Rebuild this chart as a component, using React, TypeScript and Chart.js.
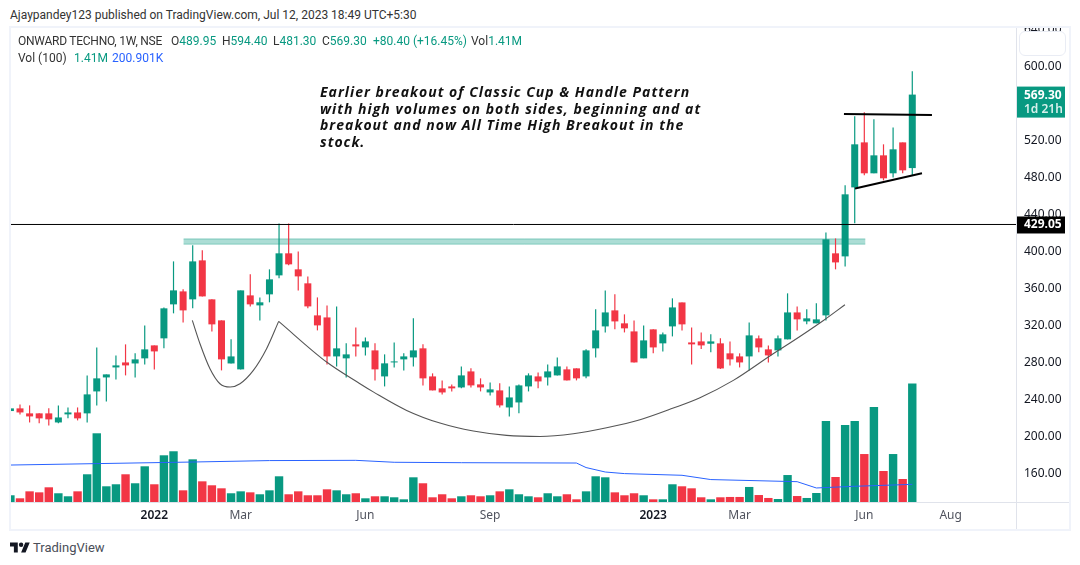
import { Chart, registerables } from "chart.js";
import { useEffect, useRef } from "react";

Chart.register(...registerables);

const GREEN = "#089981";
const RED = "#f23645";
const BLUE = "#2962ff";
const TEXT = "#131722";
const FONT = "'Noto Sans', sans-serif";
const LABEL_FONT = "Roboto, sans-serif";

// weekly candles, left to right
const opens = [
  227.6, 230.5, 225.1, 225.1, 225.1, 215.3, 224, 226.1, 225.1, 248.8, 263.9, 274.7, 280.1, 279, 284.5, 298.5,
  306.1, 342.8, 356.8, 348.2, 390.3, 348.2, 325.5, 279, 272.6, 352.5, 341.7, 353.6, 374.1, 397.9, 380.6, 365.5,
  330.9, 328.7, 286.6, 284.5, 299.6, 296.3, 293.1, 265, 280.1, 283.4, 285.5, 295.3, 265, 252.1, 254.2, 253.1,
  270.4, 256.4, 247.7, 249.9, 231.5, 236.9, 254.2, 265, 263.9, 266.1, 272.6, 273.7, 265, 295.3, 319, 336.3,
  322.3, 313.6, 284.5, 315.8, 300.7, 319, 344.9, 301.7, 302.8, 300.3, 300.7, 289.9, 286.6, 286.6, 306.1, 294.2,
  293.1, 305, 334.1, 324.4, 322.3, 330.9, 397.9, 394.6, 469.1, 517.7, 484.3, 503.7, 484.3, 517.7, 489.95,
];
const highs = [
  240.2, 234.8, 233.7, 225.1, 230.5, 233.7, 231.5, 231.5, 266.1, 296.3, 267.2, 287.7, 299.6, 289.9, 320.1, 298.5,
  339.5, 389.2, 359, 406.5, 401.1, 348.2, 325.5, 305, 357.9, 375.2, 350.3, 380.6, 430, 430, 400, 373,
  350.3, 341.7, 340.6, 300.7, 317.9, 307.1, 300.7, 288.8, 301.7, 289.9, 327.7, 299.6, 268.3, 260.7, 256.4, 275.8,
  273.7, 262.9, 258.5, 257.5, 254.2, 256.4, 268.3, 269.3, 278, 285.5, 275.8, 273.7, 294.2, 337.4, 357.9, 353.6,
  332, 325.5, 320.1, 315.8, 312.5, 349.3, 344.9, 317.9, 312.5, 310.4, 306.1, 302.8, 289.9, 323.3, 309.3, 298.5,
  309.3, 354.7, 340.6, 337.4, 343.9, 420.5, 414, 471.3, 545.8, 550.1, 542.6, 515.6, 533.9, 517.7, 594.4,
];
const lows = [
  220.7, 224, 215.3, 214.3, 212.1, 214.3, 219.7, 217.5, 215.3, 233.7, 238, 261.8, 266.1, 263.9, 278, 272.6,
  295.3, 333.1, 323.3, 338.5, 351.4, 313.6, 271.5, 279, 272.6, 340.6, 325.5, 345, 370.9, 384.9, 357.9, 338.5,
  314.7, 278, 275.8, 263.9, 286.6, 287.7, 260.7, 254.2, 274.7, 271.5, 275.8, 255.3, 249.9, 245.6, 248.8, 252.1,
  253.1, 248.8, 244.5, 231.5, 221.8, 225.1, 248.8, 252.1, 255.3, 266.1, 260.7, 260.7, 262.9, 285.5, 312.5, 315.8,
  312.5, 280.1, 284.5, 289.9, 292, 308.2, 314.7, 278, 294.5, 291, 272.9, 276.9, 274.7, 271.5, 291, 280.1,
  286.6, 305, 314.7, 321.2, 322.3, 325.5, 380.6, 383.8, 430.3, 482.1, 484.3, 476.7, 479.9, 484.3, 481.3,
];
const closes = [
  230.5, 226.1, 221.8, 219.7, 218.6, 220.7, 226.1, 219.7, 245.6, 262.9, 267.2, 276.9, 276.9, 283.4, 294.2, 292,
  338.5, 357.9, 336.3, 389.2, 351.4, 321.2, 283.4, 286.6, 357.9, 342.8, 345, 369.8, 397.9, 386, 373, 340.6,
  320.1, 286.6, 295.3, 288.8, 297.4, 302.8, 272.6, 279.1, 281.2, 286.6, 293.1, 262.9, 249.9, 247.7, 252.1, 266.1,
  255.3, 253.1, 251, 233.7, 242.3, 255.3, 266.1, 259.6, 270.4, 275.8, 260.7, 262.9, 293.1, 314.7, 334.1, 324.4,
  316.9, 280.1, 303.9, 296.3, 310.4, 339.5, 321.2, 299.6, 298.5, 302.8, 273.6, 283.4, 280.1, 309.3, 296.3, 287.7,
  306.1, 334.1, 326.6, 327.7, 326.6, 413, 388.1, 461.6, 515.6, 484.3, 503.7, 478.9, 510.2, 487.5, 569.3,
];
// thousands of shares
const volumes = [
  80, 44, 127, 115, 175, 104, 68, 127, 330, 818, 187, 211, 330, 223, 425, 211, 556, 604, 139, 508, 246, 199, 163, 104,
  127, 115, 92, 139, 306, 92, 127, 80, 80, 151, 139, 92, 104, 44, 68, 68, 56, 32, 294, 223, 56, 92, 44, 68,
  80, 68, 80, 127, 151, 92, 68, 56, 104, 68, 92, 32, 127, 306, 294, 115, 80, 104, 80, 32, 32, 211, 187, 163,
  56, 32, 56, 60, 60, 179, 83, 48, 36, 321, 71, 48, 107, 964, 298, 917, 964, 571, 1131, 369, 571, 274, 1410,
];

const maWeeks = [0, 9, 19, 27, 36, 40, 47, 59, 60, 62, 64, 70, 73, 82, 84, 88, 94];
const maValues = [440, 457, 476, 493, 496, 473, 468, 464, 410, 357, 338, 318, 267, 242, 167, 187, 210];

const handleWeeks = [18.96, 19.76, 20.8, 21.84, 22.9, 23.93, 25.32, 26.7, 27.96];
const handlePrices = [325.5, 300.3, 273.3, 257.1, 253.5, 257.1, 271.5, 294.9, 324.4];
const cupWeeks = [
  27.96, 32.96, 36.43, 37.82, 41.3, 44.77, 48.25, 51.72, 55.2, 58.67, 62.14, 65.62, 69.09, 71.87, 75.35, 79.5, 81.25,
  84.7, 86.98,
];
const cupPrices = [
  324.4, 280.5, 257.1, 248.3, 228.3, 214.6, 206, 201.3, 200.2, 203.1, 209.6, 218.2, 230.8, 242, 260.7, 289.5, 301,
  325.1, 342.4,
];

const resistance = 429.05;
const zoneWeeks = [18.05, 89.1];
const zonePrice = 410.6;
const zoneEdges = [413.4, 407.8];
const flagTopWeeks = [86.88, 96.05];
const flagTopPrices = [548.3, 547.3];
const flagLowWeeks = [88.03, 95.01];
const flagLowPrices = [468, 484.3];

const priceTicks = [640, 600, 560, 520, 480, 440, 400, 360, 320, 280, 240, 200, 160];
const timeTickWeeks = [15, 24, 37, 50, 67, 76, 89, 98];
const timeTickLabels = ["2022", "Mar", "Jun", "Sep", "2023", "Mar", "Jun", "Aug"];

const noteLines = [
  "Earlier breakout of Classic Cup & Handle Pattern",
  "with high volumes on both sides, beginning and at",
  "breakout and now All Time High Breakout in the",
  "stock.",
];

const xyPairs = (xs: number[], ys: number[]) => xs.map((x, i) => ({ x, y: ys[i] }));
const candleColors = closes.map((c, i) => (c >= opens[i] ? GREEN : RED));
const isYear = (c: any) => /^\d/.test(c.tick?.label ?? "");

const priceTags = {
  id: "priceTags",
  afterDraw(chart: any) {
    const { ctx, scales, chartArea } = chart;
    const left = chartArea.right;
    const y = scales.y;
    ctx.save();
    ctx.textBaseline = "middle";
    ctx.textAlign = "left";

    const cy = y.getPixelForValue(closes[closes.length - 1]);
    ctx.fillStyle = GREEN;
    ctx.fillRect(left, cy - 8, 49, 31);
    ctx.fillStyle = "#ffffff";
    ctx.font = `bold 12px ${FONT}`;
    ctx.fillText(closes[closes.length - 1].toFixed(2), left + 8, cy + 0.5);
    ctx.fillStyle = "#d8f0ec";
    ctx.font = `600 12px ${FONT}`;
    ctx.fillText("1d 21h", left + 8, cy + 14.5);

    const ry = y.getPixelForValue(resistance);
    ctx.fillStyle = "#000000";
    ctx.fillRect(left, ry - 8, 49, 17);
    ctx.fillStyle = "#ffffff";
    ctx.font = `bold 12px ${FONT}`;
    ctx.fillText(resistance.toFixed(2), left + 8, ry + 0.5);
    ctx.restore();
  },
};

const App = () => {
  const canvasRef = useRef<HTMLCanvasElement | null>(null);
  const chartRef = useRef<Chart | null>(null);

  useEffect(() => {
    if (!canvasRef.current) return;
    const ctx = canvasRef.current.getContext("2d");
    if (!ctx) return;

    const xMin = 0.062;
    const xMax = 104.81;
    const lineBase = { type: "line" as const, pointRadius: 0, fill: false, yAxisID: "y" };

    chartRef.current = new Chart(ctx, {
      type: "bar",
      data: {
        datasets: [
          { ...lineBase, data: xyPairs(flagTopWeeks, flagTopPrices), borderColor: "#000000", borderWidth: 2 },
          { ...lineBase, data: xyPairs(flagLowWeeks, flagLowPrices), borderColor: "#000000", borderWidth: 2 },
          {
            ...lineBase,
            data: xyPairs(handleWeeks, handlePrices),
            borderColor: "#555555",
            borderWidth: 1.1,
            cubicInterpolationMode: "monotone",
          },
          {
            ...lineBase,
            data: xyPairs(cupWeeks, cupPrices),
            borderColor: "#555555",
            borderWidth: 1.1,
            cubicInterpolationMode: "monotone",
          },
          {
            ...lineBase,
            data: xyPairs([xMin, xMax], [resistance, resistance]),
            borderColor: "#000000",
            borderWidth: 1,
          },
          {
            yAxisID: "y",
            data: closes.map((c, i) => ({ x: i, y: [Math.min(c, opens[i]), Math.max(c, opens[i])] })),
            backgroundColor: candleColors,
            barThickness: 7,
            inflateAmount: 0,
            grouped: false,
          },
          {
            yAxisID: "y",
            data: highs.map((h, i) => ({ x: i, y: [lows[i], h] })),
            backgroundColor: candleColors,
            barThickness: 1.2,
            inflateAmount: 0,
            grouped: false,
          },
          ...zoneEdges.map((edge) => ({
            ...lineBase,
            data: xyPairs(zoneWeeks, [edge, edge]),
            borderColor: "rgba(8, 153, 129, 0.35)",
            borderWidth: 1,
          })),
          {
            ...lineBase,
            data: xyPairs(zoneWeeks, [zonePrice, zonePrice]),
            borderColor: "rgba(8, 153, 129, 0.28)",
            borderWidth: 5,
          },
          {
            ...lineBase,
            data: xyPairs(zoneWeeks, [zonePrice, zonePrice]),
            borderColor: "rgba(8, 153, 129, 0.08)",
            borderWidth: 7,
          },
          {
            type: "line",
            yAxisID: "vol",
            data: xyPairs(maWeeks, maValues),
            borderColor: BLUE,
            borderWidth: 1,
            pointRadius: 0,
            fill: false,
          },
          {
            yAxisID: "vol",
            data: volumes.map((v, i) => ({ x: i, y: v })),
            backgroundColor: candleColors,
            barThickness: 8.4,
            inflateAmount: 0,
            grouped: false,
          },
        ] as any,
      },
      plugins: [priceTags],
      options: {
        animation: false,
        responsive: false,
        maintainAspectRatio: false,
        events: [],
        layout: { padding: 0 },
        plugins: { legend: { display: false }, tooltip: { enabled: false }, title: { display: false } },
        scales: {
          x: {
            type: "linear",
            min: xMin,
            max: xMax,
            offset: false,
            grid: { display: false, drawTicks: false },
            border: { display: false },
            afterBuildTicks: (axis: any) => {
              axis.ticks = timeTickWeeks.map((value) => ({ value }));
            },
            afterFit: (axis: any) => {
              axis.height = 27;
              axis.paddingLeft = 0;
              axis.paddingRight = 0;
            },
            ticks: {
              autoSkip: false,
              maxRotation: 0,
              padding: 6,
              color: (c: any) => (isYear(c) ? TEXT : "#50535e"),
              font: (c: any) => ({
                family: FONT,
                size: 12,
                weight: isYear(c) ? 600 : 400,
              }),
              callback: (value: any) => timeTickLabels[timeTickWeeks.indexOf(value)],
            },
          },
          y: {
            type: "linear",
            position: "right",
            min: 129.4,
            max: 641.2,
            grid: { display: false, drawTicks: false },
            border: { display: false },
            afterBuildTicks: (axis: any) => {
              axis.ticks = priceTicks.map((value) => ({ value }));
            },
            afterFit: (axis: any) => {
              axis.width = 53;
              axis.paddingTop = 0;
              axis.paddingBottom = 0;
            },
            ticks: {
              autoSkip: false,
              padding: 8,
              color: TEXT,
              font: { family: FONT, size: 12 },
              callback: (value: any) => Number(value).toFixed(2),
            },
          },
          vol: {
            type: "linear",
            display: false,
            min: 0,
            max: 5643,
          },
        },
      },
    });

    return () => {
      if (chartRef.current) {
        chartRef.current.destroy();
      }
    };
  }, []);

  const at = (left: number, top: number): React.CSSProperties => ({
    position: "absolute",
    left,
    top,
    whiteSpace: "nowrap",
    lineHeight: "16px",
  });

  return (
    <div
      style={{
        position: "absolute",
        left: 0,
        top: 0,
        width: 1080,
        height: 565,
        background: "#ffffff",
        overflow: "hidden",
        fontFamily: LABEL_FONT,
        fontSize: 12,
        color: TEXT,
      }}
    >
      <div style={{ ...at(10, 7), fontSize: 12, color: "#333" }}>
        Ajaypandey123 published on TradingView.com, Jul 12, 2023 18:49 UTC+5:30
      </div>

      <div
        style={{
          position: "absolute",
          left: 9,
          top: 26,
          width: 1062,
          height: 505,
          boxSizing: "border-box",
          border: "2px solid #f0f3fa",
          overflow: "hidden",
        }}
      >
        <canvas ref={canvasRef} width={1058} height={501} style={{ display: "block", width: 1058, height: 501 }} />
        <div style={{ position: "absolute", left: 1005, top: 0, width: 1, height: 501, background: "#e0e3eb" }} />
        <div style={{ position: "absolute", left: 0, top: 474, width: 1058, height: 1, background: "#e0e3eb" }} />
        <div
          style={{
            position: "absolute",
            left: 1008,
            top: 3,
            width: 47,
            height: 25,
            boxSizing: "border-box",
            background: "#ffffff",
            border: "1px solid #e9ecf4",
            borderRadius: 6,
          }}
        />
      </div>

      <div style={{ ...at(18, 33), letterSpacing: -0.25, color: "#333" }}>ONWARD TECHNO, 1W, NSE</div>
      <div style={{ ...at(171, 33), color: GREEN }}>
        <span style={{ color: "#333" }}>O</span>489.95
      </div>
      <div style={{ ...at(222, 33), color: GREEN }}>
        <span style={{ color: "#333" }}>H</span>594.40
      </div>
      <div style={{ ...at(273, 33), color: GREEN }}>
        <span style={{ color: "#333" }}>L</span>481.30
      </div>
      <div style={{ ...at(322, 33), color: GREEN }}>
        <span style={{ color: "#333" }}>C</span>569.30
      </div>
      <div style={{ ...at(373, 33), color: GREEN }}>+80.40 (+16.45%)</div>
      <div style={{ ...at(471, 33), color: GREEN }}>
        <span style={{ color: "#333" }}>Vol</span>1.41M
      </div>
      <div style={{ ...at(18, 50), color: "#333" }}>Vol (100)</div>
      <div style={{ ...at(74, 50), color: GREEN }}>1.41M</div>
      <div style={{ ...at(112, 50), color: BLUE }}>200.901K</div>

      {noteLines.map((line, i) => (
        <div
          key={line}
          style={{
            ...at(320, 84 + i * 16.5),
            fontFamily: "'Open Sans', sans-serif",
            fontStyle: "italic",
            fontWeight: 700,
            fontSize: 14,
            letterSpacing: 1.02,
            color: "#111",
          }}
        >
          {line}
        </div>
      ))}

      <svg style={{ position: "absolute", left: 10, top: 542 }} width={20} height={11} viewBox="0 4 36 18">
        <path d="M14 22H7V11H0V4h14v18zM28 22h-8l7.5-18h8L28 22z" fill="#131722" />
        <circle cx="20" cy="8" r="4" fill="#131722" />
      </svg>
      <div style={{ ...at(33, 540), fontSize: 13, color: "#4a4e58" }}>TradingView</div>
    </div>
  );
};

export default App;
